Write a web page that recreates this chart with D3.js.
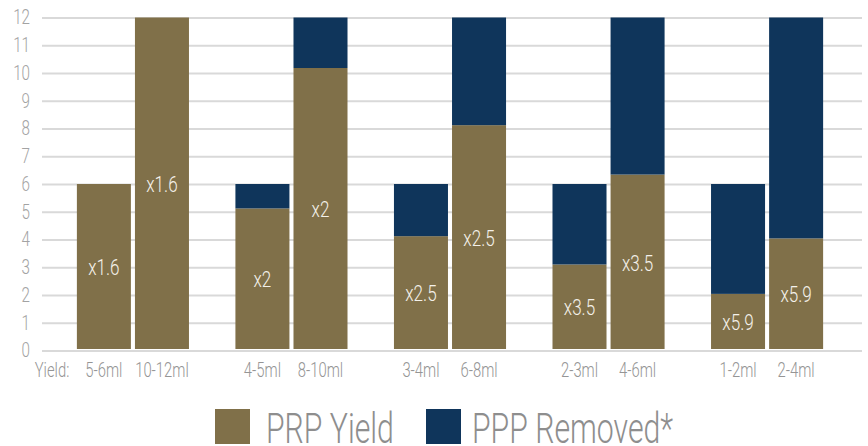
<!DOCTYPE html>
<html>
<head>
<meta charset="utf-8">
<script src="https://cdn.jsdelivr.net/npm/d3@7"></script>
<style>
  html, body { margin: 0; padding: 0; background: #ffffff; }
  svg { display: block; }
  text { font-family: Roboto, "Liberation Sans Narrow", "Liberation Sans", sans-serif; font-weight: 300; }
</style>
</head>
<body>
<svg id="chart" width="868" height="446"></svg>
<script>
// ---- data ----
const groups = ["g1", "g2", "g3", "g4", "g5"];
const barLabels = [["5-6ml", "10-12ml"], ["4-5ml", "8-10ml"], ["3-4ml", "6-8ml"], ["2-3ml", "4-6ml"], ["1-2ml", "2-4ml"]];
const prpYield = [[6, 12], [5.12, 10.18], [4.12, 8.12], [3.1, 6.34], [2.04, 4.04]];
const pppRemoved = [[0, 0], [0.88, 1.82], [1.88, 3.88], [2.9, 5.66], [3.96, 7.96]];
const multipliers = [["x1.6", "x1.6"], ["x2", "x2"], ["x2.5", "x2.5"], ["x3.5", "x3.5"], ["x5.9", "x5.9"]];
const yTicks = [0, 1, 2, 3, 4, 5, 6, 7, 8, 9, 10, 11, 12];
const axisLead = "Yield:";
const seriesNames = ["PRP Yield", "PPP Removed*"];
const colors = ["#807049", "#0f355b"];

// ---- layout ----
const svg = d3.select("#chart");
const plotLeft = 42, plotRight = 862;
const y = d3.scaleLinear().domain([0, 12]).range([350.5, 17.5]);
const xOuter = d3.scaleBand().domain(groups).range([42, 858]).paddingInner(0.293).paddingOuter(0.22);
const xInner = d3.scaleBand().domain([0, 1]).range([0, xOuter.bandwidth()]).paddingInner(0.07).paddingOuter(0);
const SX = 0.76; // horizontal condensing of text

// gridlines
const grid = svg.append("g").attr("transform", `translate(${plotLeft},0)`)
  .call(d3.axisLeft(y).tickValues(yTicks).tickSize(-(plotRight - plotLeft)).tickFormat(""));
grid.select(".domain").remove();
grid.selectAll("line").attr("stroke", "#d9d9d9").attr("stroke-width", 2);

// y axis labels
const yAx = svg.append("g").attr("transform", "translate(30,0)")
  .call(d3.axisLeft(y).tickValues(yTicks).tickSize(0).tickPadding(0));
yAx.select(".domain").remove();
yAx.selectAll("text")
  .attr("x", 0)
  .attr("transform", `scale(${SX},1)`)
  .attr("fill", "#a3a3a3")
  .style("font-size", "20px")
  .style("font-family", null);

// bars
const bars = [];
groups.forEach((g, gi) => {
  [0, 1].forEach(bi => {
    bars.push({
      g, gi, bi,
      x: xOuter(g) + xInner(bi),
      yieldV: prpYield[gi][bi],
      removedV: pppRemoved[gi][bi],
      label: barLabels[gi][bi],
      mult: multipliers[gi][bi]
    });
  });
});

const bw = xInner.bandwidth();
svg.append("g").selectAll("rect.yield").data(bars).join("rect")
  .attr("x", d => d.x).attr("width", bw)
  .attr("y", d => y(d.yieldV)).attr("height", d => y(0) - y(d.yieldV) - 1.5)
  .attr("fill", colors[0]);
svg.append("g").selectAll("rect.removed").data(bars.filter(d => d.removedV > 0)).join("rect")
  .attr("x", d => d.x).attr("width", bw)
  .attr("y", d => y(d.yieldV + d.removedV)).attr("height", d => y(d.yieldV) - y(d.yieldV + d.removedV))
  .attr("fill", colors[1]);

// multiplier labels
svg.append("g").selectAll("text").data(bars).join("text")
  .attr("transform", d => `translate(${d.x + bw / 2},${y(d.yieldV / 2) + 8}) scale(${SX},1)`)
  .attr("text-anchor", "middle")
  .attr("fill", "#f4f1ea")
  .style("font-size", "22.5px")
  .text(d => d.mult);

// category labels
svg.append("g").selectAll("text").data(bars).join("text")
  .attr("transform", d => `translate(${d.x + bw / 2},376.5) scale(${SX},1)`)
  .attr("text-anchor", "middle")
  .attr("fill", "#959595")
  .style("font-size", "19.5px")
  .text(d => d.label);
svg.append("text")
  .attr("transform", `translate(${plotLeft + 10},376.5) scale(${SX},1)`)
  .attr("text-anchor", "middle")
  .attr("fill", "#959595")
  .style("font-size", "19.5px")
  .text(axisLead);

// legend
const legendX = [215, 426];
const legendTextDx = [51, 46];
const leg = svg.append("g").selectAll("g").data(seriesNames).join("g")
  .attr("transform", (d, i) => `translate(${legendX[i]},409)`);
leg.append("rect").attr("width", 35).attr("height", 35).attr("fill", (d, i) => colors[i]);
leg.append("text")
  .attr("transform", (d, i) => `translate(${legendTextDx[i]},33.5) scale(0.72,1)`)
  .attr("fill", "#8e8e8e")
  .style("font-size", "42px")
  .text(d => d);
</script>
</body>
</html>
